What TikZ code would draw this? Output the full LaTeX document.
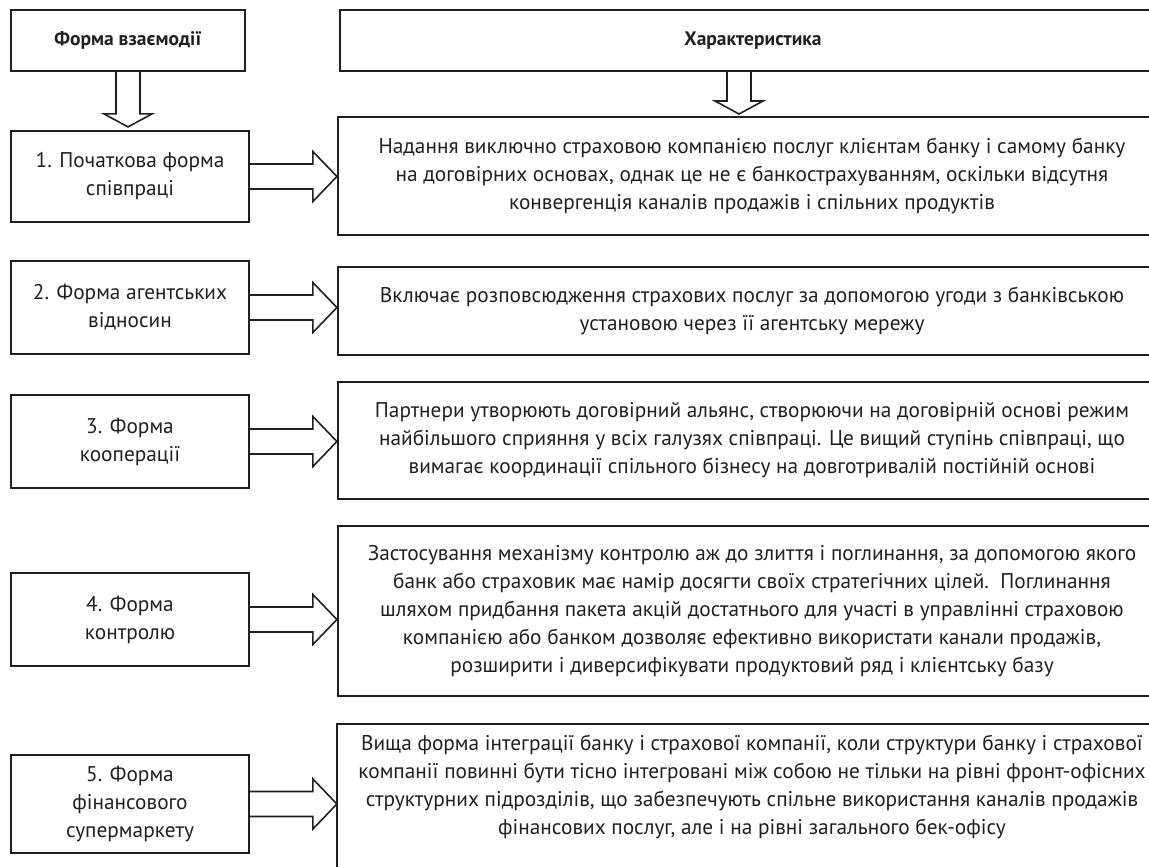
\documentclass[tikz,border=0pt]{standalone}
\usepackage{fontspec}
\setmainfont{PT Sans}
\usepackage{tikz}
\usetikzlibrary{
  calc
}
\definecolor{linecolor}{RGB}{35, 31, 32}
\definecolor{labelcolor}{RGB}{35, 31, 32}
\tikzset{
bodytext/.style={
  align=center,
  font=\fontsize{21.3}{28}\selectfont,
  text=labelcolor
},
headtext/.style={
  align=center,
  font=\bfseries\fontsize{19.5}{22}\selectfont,
  text=labelcolor
},
formbox/.style={
  draw=linecolor,
  line width=2.2pt,
  inner sep=0pt,
  minimum width=238pt,
  bodytext
},
charbox/.style={
  draw=linecolor,
  line width=2.2pt,
  inner sep=0pt,
  minimum width=828pt,
  bodytext
},
blockarrow/.style={
  draw=linecolor,
  line width=1.6pt,
  line join=miter
}
}
% hollow arrow from the east side of #1 to the west side of #2
\newcommand{\sidearrow}[2]{%
  \draw[blockarrow] let \p1=(#1.east), \p2=(#2.west) in
    (\x1,{\y1+12.5pt}) -- ({\x2-24pt},{\y1+12.5pt}) -- ({\x2-24pt},{\y1+25pt})
    -- (\x2,\y1) -- ({\x2-24pt},{\y1-25pt}) -- ({\x2-24pt},{\y1-12.5pt})
    -- (\x1,{\y1-12.5pt});}
% hollow arrow pointing down from #1 to #2
\newcommand{\downarrowblock}[2]{%
  \draw[blockarrow] let \p1=(#1), \p2=(#2) in
    ({\x1-12pt},\y1) -- ({\x1-12pt},{\y2+16pt}) -- ({\x1-24pt},{\y2+16pt})
    -- (\x1,{\y2+3pt}) -- ({\x1+24pt},{\y2+16pt}) -- ({\x1+12pt},{\y2+16pt})
    -- ({\x1+12pt},\y1);}

\begin{document}
\begin{tikzpicture}[x=1pt, y=-1pt]
\useasboundingbox (0,0) rectangle (1149,867);
\clip (0,0) rectangle (1149,867);

% headers
\node[formbox, minimum width=234pt, minimum height=61pt, headtext] (f0) at (128,40.5) {Форма взаємодії};
\node[charbox, minimum width=826pt, minimum height=61pt, headtext] (c0) at (753,40.5) {Характеристика};

% forms
\node[formbox, minimum height=91pt] (f1) at (130,176.5) {1. Початкова форма\\співпраці};
\node[formbox, minimum height=93pt] (f2) at (130,307.5) {2. Форма агентських\\відносин};
\node[formbox, minimum height=93pt] (f3) at (130,441.5) {3. Форма\\кооперації};
\node[formbox, minimum height=93pt] (f4) at (130,619.5) {4. Форма\\контролю};
\node[formbox, minimum height=98pt] (f5) at (130,804) {5. Форма\\фінансового\\супермаркету};

% characteristics
\node[charbox, minimum height=118pt] (c1) at (752,176) {Надання виключно страховою компанією послуг клієнтам банку і самому банку\\на договірних основах, однак це не є банкострахуванням, оскільки відсутня\\конвергенція каналів продажів і спільних продуктів};
\node[charbox, minimum height=88pt] (c2) at (752,311) {Включає розповсюдження страхових послуг за допомогою угоди з банківською\\установою через її агентську мережу};
\node[charbox, minimum height=117pt] (c3) at (752,440.5) {Партнери утворюють договірний альянс, створюючи на договірній основі режим\\найбільшого сприяння у всіх галузях співпраці. Це вищий ступінь співпраці, що\\вимагає координації спільного бізнесу на довготривалій постійній основі};
\node[charbox, minimum height=170pt] (c4) at (752,611) {Застосування механізму контролю аж до злиття і поглинання, за допомогою якого\\банк або страховик має намір досягти своїх стратегічних цілей.\ \ Поглинання\\шляхом придбання пакета акцій достатнього для участі в управлінні страховою\\компанією або банком дозволяє ефективно використати канали продажів,\\розширити і диверсифікувати продуктовий ряд і клієнтську базу};
\node[charbox, draw=none, minimum height=124pt] (c5) at (752,787) {Вища форма інтеграції банку і страхової компанії, коли структури банку і страхової\\компанії повинні бути тісно інтегровані між собою не тільки на рівні фронт-офісних\\структурних підрозділів, що забезпечують спільне використання каналів продажів\\фінансових послуг, але і на рівні загального бек-офісу};
\draw[draw=linecolor, line width=2.2pt] (c5.north west) rectangle ($(c5.south east)+(0,40)$);

% arrows
\coordinate (cdown) at (739,71);
\coordinate (cup) at (739,117);
\downarrowblock{f0.south}{f1.north}
\downarrowblock{cdown}{cup}
\sidearrow{f1}{c1}
\sidearrow{f2}{c2}
\sidearrow{f3}{c3}
\sidearrow{f4}{c4}
\sidearrow{f5}{c5}
\end{tikzpicture}
\end{document}
